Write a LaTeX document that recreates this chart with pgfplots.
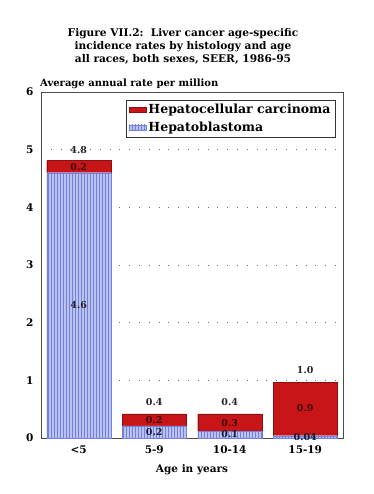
\documentclass[border=0pt]{standalone}
\usepackage{fontspec}
\setmainfont{DejaVu Serif}
\usepackage{pgfplots}
\pgfplotsset{compat=1.18}
\usetikzlibrary{patterns}
\definecolor{hcc}{RGB}{200,22,24}
\definecolor{hbfill}{RGB}{186,194,240}
\definecolor{hbline}{RGB}{115,127,218}
\definecolor{gridc}{RGB}{110,110,110}
\tikzset{vl/.style={font=\bfseries\fontsize{9.5}{10}\selectfont, text=black!85, inner sep=0pt}}
\begin{document}
\begin{tikzpicture}
\begin{axis}[
  name=ax,
  scale only axis,
  width=302pt, height=346pt,
  xmin=-0.5, xmax=3.5, ymin=0, ymax=6,
  ybar stacked, bar width=0.85,
  xtick={0,1,2,3}, xticklabels={<5,5-9,10-14,15-19},
  ytick={0,1,2,3,4,5,6},
  major tick length=0pt,
  /pgf/number format/assume math mode=true,
  ticklabel style={font=\bfseries\fontsize{10.5}{12}\selectfont},
  yticklabel style={xshift=-4pt},
  xticklabel style={yshift=-4pt},
  axis line style={draw=black!70, line width=0.5pt},
  ymajorgrids, grid style={draw=gridc, line width=0.6pt, dash pattern=on 0.8pt off 9pt},
  xlabel={Age in years},
  xlabel style={font=\bfseries\fontsize{10.5}{12}\selectfont, yshift=-4pt},
  legend style={at={(0.281,0.977)}, anchor=north west, draw=black!80, line width=0.5pt,
    font=\bfseries\fontsize{12.5}{14}\selectfont, inner xsep=3pt, inner ysep=2pt, row sep=3pt},
  legend cell align=left,
  reverse legend,
  area legend,
  clip=false,
]
\addplot[fill=hbfill, draw=hbline, line width=0.3pt,
  postaction={pattern=vertical lines, pattern color=hbline}]
  coordinates {(0,4.60) (1,0.21) (2,0.12) (3,0.04)};
\addlegendentry{Hepatoblastoma}
\addplot[fill=hcc, draw=hcc!70!black, line width=0.3pt]
  coordinates {(0,0.21) (1,0.21) (2,0.30) (3,0.93)};
\addlegendentry{Hepatocellular carcinoma}
\coordinate (t0) at (axis cs:0,5.0);
\coordinate (t1) at (axis cs:1,0.62);
\coordinate (t2) at (axis cs:2,0.62);
\coordinate (t3) at (axis cs:3,1.18);
\coordinate (r0) at (axis cs:0,4.70);
\coordinate (b0) at (axis cs:0,2.30);
\coordinate (r1) at (axis cs:1,0.31);
\coordinate (b1) at (axis cs:1,0.10);
\coordinate (r2) at (axis cs:2,0.26);
\coordinate (b2) at (axis cs:2,0.06);
\coordinate (r3) at (axis cs:3,0.52);
\coordinate (b3) at (axis cs:3,0.02);
\end{axis}
\node[vl] at (t0) {4.8};
\node[vl] at (t1) {0.4};
\node[vl] at (t2) {0.4};
\node[vl] at (t3) {1.0};
\node[vl,text=black!70!hcc] at (r0) {0.2};
\node[vl] at (b0) {4.6};
\node[vl,text=black!70!hcc] at (r1) {0.2};
\node[vl,text=black!80!hbline] at (b1) {0.2};
\node[vl,text=black!70!hcc] at (r2) {0.3};
\node[vl,text=black!80!hbline] at (b2) {0.1};
\node[vl,text=black!70!hcc] at (r3) {0.9};
\node[vl,text=black!80!hbline] at (b3) {0.04};
\node[anchor=south west, font=\bfseries\fontsize{10}{12}\selectfont, inner sep=0pt]
  at ([yshift=3pt,xshift=-1pt]ax.north west) {Average annual rate per million};
\node[align=center, font=\bfseries\fontsize{10.6}{13}\selectfont, inner sep=0pt]
  at ([xshift=-9pt,yshift=46pt]ax.north) {Figure VII.2:\ \ Liver cancer age-specific\\ incidence rates\ by histology and age\\ all races, both sexes, SEER, 1986-95};
\path[use as bounding box] ([xshift=-41pt,yshift=-56pt]ax.south west) rectangle ++(373pt,494pt);
\end{tikzpicture}
\end{document}
